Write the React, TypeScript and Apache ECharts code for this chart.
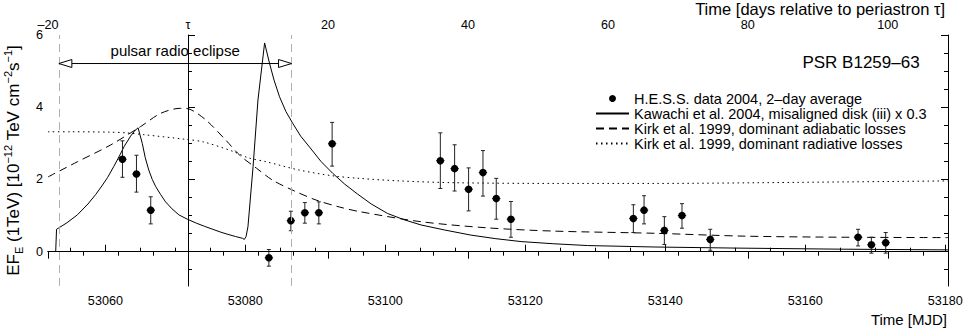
import React, { useEffect, useRef } from 'react';
import * as echarts from 'echarts';

const FONT = '"Liberation Sans", Arial, Helvetica, sans-serif';

// axis ranges
const PERIASTRON_MJD = 53071.8;
const X_MIN = 53051.8;
const X_MAX = 53180.4;
const Y_MIN = -0.95;
const Y_MAX = 6;

// tick values
const mjdMajorTicks = [53060, 53080, 53100, 53120, 53140, 53160, 53180];
const mjdMinorTicks = [53055, 53060, 53065, 53070, 53075, 53080, 53085, 53090, 53095, 53100, 53105, 53110, 53115, 53120, 53125, 53130, 53135, 53140, 53145, 53150, 53155, 53160, 53165, 53170, 53175, 53180];
const dayMajorTicks = [-20, 0, 20, 40, 60, 80, 100];
const dayMinorTicks = [-20, -15, -10, -5, 0, 5, 10, 15, 20, 25, 30, 35, 40, 45, 50, 55, 60, 65, 70, 75, 80, 85, 90, 95, 100, 105];
const fluxMajorTicks = [0, 2, 4, 6];
const fluxMinorTicks = [-0.5, 0, 0.5, 1, 1.5, 2, 2.5, 3, 3.5, 4, 4.5, 5, 5.5, 6];

// eclipse
const eclipseStartMjd = 53053.35;
const eclipseEndMjd = 53086.6;
const eclipseArrowFlux = 5.21;
const eclipseLabelFlux = 5.56;

// H.E.S.S. data
const hessMjd = [53062.44, 53064.44, 53066.48, 53083.36, 53086.5, 53088.5, 53090.5, 53092.4, 53107.86, 53109.9, 53111.9, 53113.95, 53115.85, 53117.95, 53135.44, 53136.97, 53139.87, 53142.39, 53146.43, 53167.55, 53169.45, 53171.5];
const hessFlux = [2.56, 2.15, 1.15, -0.17, 0.86, 1.08, 1.08, 2.99, 2.52, 2.3, 1.73, 2.19, 1.47, 0.9, 0.92, 1.15, 0.59, 1.0, 0.34, 0.4, 0.19, 0.25];
const hessFluxHigh = [3.07, 2.67, 1.52, 0.06, 1.12, 1.36, 1.38, 3.58, 3.29, 2.96, 2.32, 2.8, 2.03, 1.39, 1.3, 1.55, 0.97, 1.33, 0.62, 0.62, 0.4, 0.53];
const hessFluxLow = [2.06, 1.65, 0.77, -0.4, 0.58, 0.79, 0.77, 2.37, 1.75, 1.68, 1.13, 1.54, 0.9, 0.4, 0.53, 0.77, 0.2, 0.65, 0.04, 0.16, -0.04, -0.04];
const hessHalfBin = 0.6;

// Kawachi et al. 2004 model (solid)
const kawachiMjd = [
  53052.9, 53053.02, 53054.5, 53056.0, 53057.5, 53058.6, 53059.5, 53060.3, 53061.2, 53062.0, 53062.7, 53063.6, 53064.2, 53064.67,
  53065.27, 53065.7, 53066.2, 53066.7, 53067.2, 53067.9, 53068.6, 53069.5, 53070.5, 53071.7, 53073.0, 53074.2, 53075.35, 53076.5, 53077.5, 53078.6, 53079.6, 53079.85,
  53080.1, 53080.37, 53081.1, 53081.8, 53082.75,
  53083.46, 53084.1, 53084.88, 53085.8, 53086.78, 53087.9, 53089.16, 53090.8, 53092.48, 53094.2, 53096.0, 53098.0, 53100.3, 53102.6, 53105.1, 53108.5, 53112.2, 53115.8, 53119.4, 53124.0, 53128.9, 53138.4, 53150.0, 53165.0, 53180.4,
];
const kawachiFlux = [
  0, 0.62, 0.8, 1.02, 1.32, 1.58, 1.82, 2.05, 2.36, 2.65, 2.92, 3.2, 3.35, 3.43,
  3.0, 2.6, 2.26, 2.0, 1.8, 1.58, 1.38, 1.19, 1.02, 0.9, 0.79, 0.7, 0.62, 0.54, 0.48, 0.42, 0.37, 0.34,
  0.42, 0.69, 2.35, 4.2, 5.78,
  5.21, 4.75, 4.29, 3.88, 3.55, 3.2, 2.9, 2.5, 2.17, 1.87, 1.6, 1.32, 1.06, 0.89, 0.74, 0.6, 0.46, 0.36, 0.28, 0.22, 0.17, 0.13, 0.1, 0.07, 0.05,
];

// Kirk et al. 1999, adiabatic (dashed)
const adiabaticMjd = [53051.8, 53056.0, 53060.7, 53065.0, 53067.9, 53070.7, 53072.1, 53074.4, 53077.2, 53079.2, 53081.6, 53083.9, 53086.8, 53090.1, 53093.4, 53096.3, 53105.1, 53114.6, 53124.1, 53138.4, 53151.4, 53165.7, 53180.4];
const adiabaticFlux = [2.07, 2.49, 2.95, 3.46, 3.83, 3.97, 3.94, 3.64, 3.09, 2.67, 2.31, 1.98, 1.7, 1.43, 1.24, 1.11, 0.83, 0.66, 0.57, 0.51, 0.43, 0.4, 0.39];

// Kirk et al. 1999, radiative (dotted)
const radiativeMjd = [53051.8, 53055.0, 53060.7, 53063.0, 53065.5, 53071.5, 53074.0, 53078.2, 53080.4, 53083.0, 53087.7, 53092.5, 53096.3, 53102.0, 53109.8, 53124.1, 53138.4, 53159.1, 53180.4];
const radiativeFlux = [3.32, 3.32, 3.31, 3.29, 3.24, 3.11, 3.04, 2.78, 2.6, 2.49, 2.26, 2.1, 2.03, 1.96, 1.91, 1.89, 1.89, 1.92, 1.96];

const NAME_HESS = 'H.E.S.S. data 2004, 2\u2013day average';
const NAME_KAWACHI = 'Kawachi et al. 2004, misaligned disk (iii) x 0.3';
const NAME_ADIA = 'Kirk et al. 1999, dominant adiabatic losses';
const NAME_RAD = 'Kirk et al. 1999, dominant radiative losses';

const zip = (xs: number[], ys: number[]) => xs.map((x, i) => [x, ys[i]]);

function buildOption(): any {
  const tickColor = '#000';
  const baseX = {
    type: 'value',
    min: X_MIN,
    max: X_MAX,
    splitLine: { show: false },
    axisLine: { show: true, lineStyle: { color: '#000', width: 1 } },
  };
  const baseTop = {
    type: 'value',
    min: -20,
    max: X_MAX - PERIASTRON_MJD,
    position: 'top',
    splitLine: { show: false },
    axisLine: { show: true, lineStyle: { color: '#000', width: 1 } },
  };
  const baseY = {
    type: 'value',
    min: Y_MIN,
    max: Y_MAX,
    splitLine: { show: false },
    axisLine: { show: true, lineStyle: { color: '#000', width: 1 } },
  };
  const labelStyle = { color: '#000', fontFamily: FONT, fontSize: 12.6 };
  const hiddenSymbol = { opacity: 0, color: 'rgba(0,0,0,0)', borderWidth: 0 };

  const errorData = hessMjd.map((x, i) => [x, hessFluxLow[i], hessFluxHigh[i], hessFlux[i]]);

  return {
    animation: false,
    backgroundColor: '#fff',
    grid: { left: 48, right: 15, top: 35, bottom: 44, containLabel: false, outerBoundsMode: 'none' },
    xAxis: [
      {
        ...baseX,
        position: 'bottom',
        axisTick: { show: true, inside: true, length: 7, customValues: mjdMajorTicks, lineStyle: { color: tickColor } },
        axisLabel: { ...labelStyle, margin: 8, customValues: mjdMajorTicks, formatter: (v: number) => String(v) },
      },
      {
        ...baseX,
        position: 'bottom',
        axisLine: { show: false },
        axisTick: { show: true, inside: true, length: 4, customValues: mjdMinorTicks, lineStyle: { color: tickColor } },
        axisLabel: { show: false },
      },
      {
        ...baseTop,
        axisTick: { show: true, inside: true, length: 7, customValues: dayMajorTicks, lineStyle: { color: tickColor } },
        axisLabel: {
          ...labelStyle,
          margin: 5,
          lineHeight: 11,
          customValues: dayMajorTicks,
          formatter: (v: number) => (v === 0 ? '\u03c4' : v < 0 ? '\u2013' + Math.abs(v) : String(v)),
        },
      },
      {
        ...baseTop,
        axisLine: { show: false },
        axisTick: { show: true, inside: true, length: 4, customValues: dayMinorTicks, lineStyle: { color: tickColor } },
        axisLabel: { show: false },
      },
    ],
    yAxis: [
      {
        ...baseY,
        position: 'left',
        axisTick: { show: true, inside: true, length: 7, customValues: fluxMajorTicks, lineStyle: { color: tickColor } },
        axisLabel: { ...labelStyle, margin: 5, lineHeight: 8, customValues: fluxMajorTicks },
        name:
          '{m|EF}{sub|E}{m| (1TeV) [10}{sup|\u221212}{m| TeV cm}{sup|\u22122}{m|s}{sup|\u22121}{m|]}',
        nameLocation: 'middle',
        nameRotate: 90,
        nameGap: 24,
        nameTextStyle: {
          color: '#000',
          fontFamily: FONT,
          rich: {
            m: { fontSize: 17, fontFamily: FONT, color: '#000', lineHeight: 22 },
            sup: { fontSize: 11, fontFamily: FONT, color: '#000', lineHeight: 11, verticalAlign: 'top' },
            sub: { fontSize: 11, fontFamily: FONT, color: '#000', lineHeight: 11, verticalAlign: 'bottom' },
          },
        },
      },
      {
        ...baseY,
        position: 'left',
        axisLine: { show: false },
        axisTick: { show: true, inside: true, length: 4, customValues: fluxMinorTicks, lineStyle: { color: tickColor } },
        axisLabel: { show: false },
      },
      {
        ...baseY,
        position: 'right',
        axisTick: { show: true, inside: true, length: 7, customValues: fluxMajorTicks, lineStyle: { color: tickColor } },
        axisLabel: { show: false },
      },
      {
        ...baseY,
        position: 'right',
        axisLine: { show: false },
        axisTick: { show: true, inside: true, length: 4, customValues: fluxMinorTicks, lineStyle: { color: tickColor } },
        axisLabel: { show: false },
      },
    ],
    legend: {
      orient: 'vertical',
      left: 595,
      top: 91,
      itemGap: 0,
      itemWidth: 33,
      itemHeight: 7,
      padding: 0,
      selectedMode: false,
      textStyle: { color: '#000', fontFamily: FONT, fontSize: 14.5, lineHeight: 14.3 },
      data: [
        { name: NAME_HESS },
        { name: NAME_KAWACHI, itemStyle: hiddenSymbol },
        { name: NAME_ADIA, itemStyle: hiddenSymbol },
        { name: NAME_RAD, itemStyle: hiddenSymbol },
      ],
    },
    graphic: [
      {
        type: 'text',
        x: 945,
        y: 9,
        style: {
          text: 'Time [days relative to periastron \u03c4]',
          fill: '#000',
          fontSize: 16.5,
          fontFamily: FONT,
          align: 'right',
          verticalAlign: 'middle',
        },
      },
      {
        type: 'text',
        x: 947,
        y: 319,
        style: { text: 'Time [MJD]', fill: '#000', fontSize: 15, fontFamily: FONT, align: 'right', verticalAlign: 'middle' },
      },
      {
        type: 'text',
        x: 861,
        y: 62,
        style: { text: 'PSR B1259\u201363', fill: '#000', fontSize: 17, fontFamily: FONT, align: 'center', verticalAlign: 'middle' },
      },
    ],
    series: [
      {
        type: 'custom',
        name: 'errors',
        xAxisIndex: 0,
        yAxisIndex: 0,
        z: 3,
        silent: true,
        data: errorData,
        encode: { x: 0, y: [1, 2] },
        renderItem: (params: any, api: any) => {
          const x = api.value(0);
          const lo = api.value(1);
          const hi = api.value(2);
          const y = api.value(3);
          const pHi = api.coord([x, hi]);
          const pLo = api.coord([x, lo]);
          const pL = api.coord([x - hessHalfBin, y]);
          const pR = api.coord([x + hessHalfBin, y]);
          const cap = 2;
          const st = { stroke: '#222', lineWidth: 1, fill: null };
          return {
            type: 'group',
            children: [
              { type: 'line', shape: { x1: pHi[0], y1: pHi[1], x2: pLo[0], y2: pLo[1] }, style: st },
              { type: 'line', shape: { x1: pHi[0] - cap, y1: pHi[1], x2: pHi[0] + cap, y2: pHi[1] }, style: st },
              { type: 'line', shape: { x1: pLo[0] - cap, y1: pLo[1], x2: pLo[0] + cap, y2: pLo[1] }, style: st },
              { type: 'line', shape: { x1: pL[0], y1: pL[1], x2: pR[0], y2: pR[1] }, style: st },
            ],
          };
        },
      },
      {
        type: 'scatter',
        name: NAME_HESS,
        xAxisIndex: 0,
        yAxisIndex: 0,
        z: 4,
        symbol: 'circle',
        symbolSize: 7.5,
        itemStyle: { color: '#000', opacity: 1 },
        data: zip(hessMjd, hessFlux),
      },
      {
        type: 'line',
        name: NAME_KAWACHI,
        xAxisIndex: 0,
        yAxisIndex: 0,
        z: 2,
        symbol: 'none',
        showSymbol: false,
        lineStyle: { color: '#000', width: 1, type: 'solid' },
        itemStyle: { color: '#000' },
        data: zip(kawachiMjd, kawachiFlux),
        markLine: {
          silent: true,
          symbol: ['none', 'none'],
          label: { show: false },
          animation: false,
          data: [
            { xAxis: eclipseStartMjd, lineStyle: { color: '#b0b0b0', width: 1, type: [8, 5] } },
            { xAxis: eclipseEndMjd, lineStyle: { color: '#b0b0b0', width: 1, type: [8, 5] } },
            { xAxis: PERIASTRON_MJD, lineStyle: { color: '#000', width: 1, type: [1, 3] } },
            { yAxis: 0, lineStyle: { color: '#000', width: 1, type: [1, 2.5] } },
          ],
        },
      },
      {
        type: 'line',
        name: NAME_ADIA,
        xAxisIndex: 0,
        yAxisIndex: 0,
        z: 2,
        symbol: 'none',
        showSymbol: false,
        smooth: 0.3,
        lineStyle: { color: '#000', width: 1, type: [8, 5] },
        itemStyle: { color: '#000' },
        data: zip(adiabaticMjd, adiabaticFlux),
      },
      {
        type: 'line',
        name: NAME_RAD,
        xAxisIndex: 0,
        yAxisIndex: 0,
        z: 2,
        symbol: 'none',
        showSymbol: false,
        smooth: 0.3,
        lineStyle: { color: '#000', width: 1, type: [1.5, 3.5] },
        itemStyle: { color: '#000' },
        data: zip(radiativeMjd, radiativeFlux),
      },
      {
        type: 'custom',
        name: 'eclipse',
        xAxisIndex: 0,
        yAxisIndex: 0,
        z: 5,
        silent: true,
        data: [[eclipseStartMjd, eclipseEndMjd, eclipseArrowFlux, eclipseLabelFlux]],
        renderItem: (params: any, api: any) => {
          const a = api.coord([api.value(0), api.value(2)]);
          const b = api.coord([api.value(1), api.value(2)]);
          const t = api.coord([(api.value(0) + api.value(1)) / 2, api.value(3)]);
          const hl = 13;
          const hw = 4;
          const st = { stroke: '#000', lineWidth: 1, fill: '#fff' };
          return {
            type: 'group',
            children: [
              { type: 'line', shape: { x1: a[0] + hl, y1: a[1], x2: b[0] - hl, y2: b[1] }, style: { stroke: '#000', lineWidth: 1 } },
              { type: 'polygon', shape: { points: [[a[0], a[1]], [a[0] + hl, a[1] - hw], [a[0] + hl, a[1] + hw]] }, style: st },
              { type: 'polygon', shape: { points: [[b[0], b[1]], [b[0] - hl, b[1] - hw], [b[0] - hl, b[1] + hw]] }, style: st },
              {
                type: 'text',
                x: t[0],
                y: t[1],
                style: { text: 'pulsar radio eclipse', fill: '#000', fontSize: 15, fontFamily: FONT, align: 'center', verticalAlign: 'middle' },
              },
            ],
          };
        },
      },
    ],
  };
}

export default function App() {
  const ref = useRef<HTMLDivElement>(null);
  useEffect(() => {
    document.body.style.margin = '0';
    if (!ref.current) return;
    const chart = echarts.init(ref.current, undefined, { renderer: 'svg' });
    chart.setOption(buildOption());
    return () => chart.dispose();
  }, []);
  return <div ref={ref} style={{ width: 963, height: 330 }} />;
}
